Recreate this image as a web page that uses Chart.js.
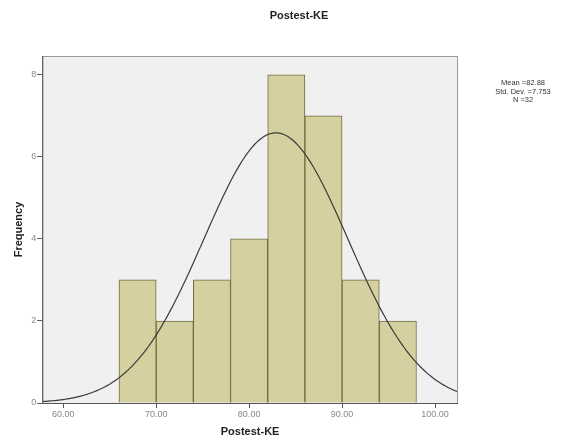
<!DOCTYPE html>
<html><head><meta charset="utf-8">
<script src="https://cdn.jsdelivr.net/npm/chart.js@4/dist/chart.umd.min.js"></script>
<style>html,body{margin:0;padding:0;background:#fff}#wrap{width:567px;height:448px;position:relative}</style>
</head><body><div id="wrap"><canvas id="c" width="567" height="448"></canvas></div>
<script>
const chartTitle = 'Postest-KE';
const binCenters = [68, 72, 76, 80, 84, 88, 92, 96];
const frequencies = [3, 2, 3, 4, 8, 7, 3, 2];
const xTickValues = [60, 70, 80, 90, 100];
const yTickValues = [0, 2, 4, 6, 8];
const meanVal = 82.88;
const sdVal = 7.753;
const nVal = 32;
const binWidth = 4;
const statsLines = ['Mean =82.88', 'Std. Dev. =7.753', 'N =32'];

const xMin = 57.74, xMax = 102.47;
const curve = [];
for (let i = 0; i <= 200; i++) {
  const x = xMin + (xMax - xMin) * i / 200;
  const z = (x - meanVal) / sdVal;
  curve.push({x: x, y: nVal * binWidth / (sdVal * Math.sqrt(2 * Math.PI)) * Math.exp(-0.5 * z * z)});
}

const areaPlugin = {
  id: 'area',
  beforeDraw(chart) {
    const {ctx, chartArea: a} = chart;
    ctx.save();
    ctx.fillStyle = '#f0f0f0';
    ctx.fillRect(a.left, a.top, a.right - a.left, a.bottom - a.top);
    ctx.restore();
  },
  afterDraw(chart) {
    const {ctx, chartArea: a} = chart;
    ctx.save();
    ctx.strokeStyle = '#9a9a9a';
    ctx.lineWidth = 1;
    ctx.strokeRect(a.left + 0.5, a.top + 0.5, a.right - a.left - 1, a.bottom - a.top);
    ctx.strokeStyle = '#555';
    ctx.beginPath();
    ctx.moveTo(a.left + 0.5, a.top); ctx.lineTo(a.left + 0.5, a.bottom + 0.5); ctx.lineTo(a.right, a.bottom + 0.5);
    ctx.stroke();
    ctx.fillStyle = '#222';
    ctx.font = 'bold 11px "Liberation Sans", Arial, sans-serif';
    ctx.textAlign = 'center';
    ctx.textBaseline = 'middle';
    ctx.fillText(chartTitle, 299, 16);
    ctx.fillStyle = '#333';
    ctx.font = '7.5px "Liberation Sans", Arial, sans-serif';
    statsLines.forEach((t, i) => ctx.fillText(t, 523, 83 + i * 8.5));
    ctx.restore();
  }
};

new Chart(document.getElementById('c'), {
  data: {
    datasets: [
      {
        type: 'bar',
        data: binCenters.map((c, i) => ({x: c, y: frequencies[i]})),
        backgroundColor: '#d5d0a0',
        borderColor: '#6e6c3e',
        borderWidth: 1,
        barPercentage: 1,
        categoryPercentage: 1,
        order: 2
      },
      {
        type: 'line',
        data: curve,
        borderColor: '#3a3a3a',
        borderWidth: 1.2,
        pointRadius: 0,
        fill: false,
        tension: 0,
        order: 1
      }
    ]
  },
  options: {
    responsive: false,
    animation: false,
    layout: {padding: {left: 12, right: 109, top: 56, bottom: 9}},
    plugins: {
      legend: {display: false},
      tooltip: {enabled: false},
      title: {display: false}
    },
    scales: {
      x: {
        type: 'linear',
        min: xMin, max: xMax,
        offset: false,
        afterBuildTicks: s => { s.ticks = xTickValues.map(v => ({value: v})); },
        ticks: {
          callback: v => Number(v).toFixed(2),
          color: '#888',
          font: {family: '"Liberation Sans", Arial, sans-serif', size: 9},
          padding: 1,
          maxRotation: 0
        },
        grid: {drawOnChartArea: false, offset: false, tickLength: 5, color: '#555'},
        border: {display: false},
        title: {
          display: true, text: 'Postest-KE', color: '#222',
          font: {family: '"Liberation Sans", Arial, sans-serif', size: 11, weight: 'bold'},
          padding: {top: 5, bottom: 0}
        }
      },
      y: {
        type: 'linear',
        min: 0, max: 8.46,
        afterBuildTicks: s => { s.ticks = yTickValues.map(v => ({value: v})); },
        ticks: {
          color: '#888',
          font: {family: '"Liberation Sans", Arial, sans-serif', size: 9},
          padding: 1
        },
        grid: {drawOnChartArea: false, offset: false, tickLength: 5, color: '#555'},
        border: {display: false},
        title: {
          display: true, text: 'Frequency', color: '#222',
          font: {family: '"Liberation Sans", Arial, sans-serif', size: 11, weight: 'bold'},
          padding: {top: 0, bottom: 5}
        }
      }
    }
  },
  plugins: [areaPlugin]
});
</script></body></html>
